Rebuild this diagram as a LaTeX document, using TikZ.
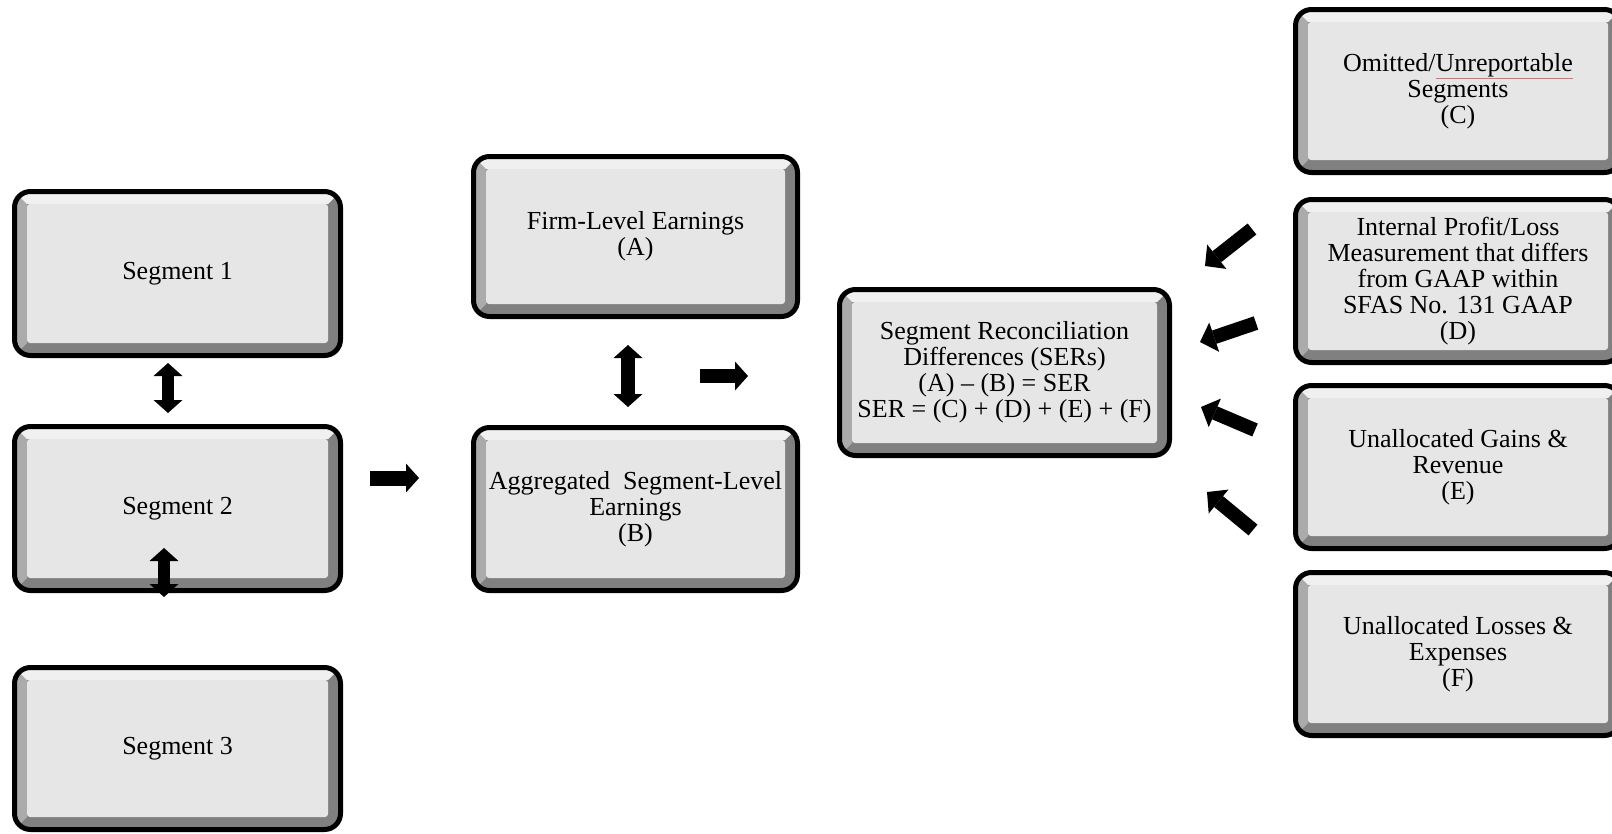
\documentclass[tikz,border=0pt]{standalone}
\usepackage{fontspec}
\setmainfont{Liberation Serif}
\usetikzlibrary{arrows.meta}
\definecolor{bevdark}{HTML}{808080}
\definecolor{bevleft}{HTML}{ABABAB}
\definecolor{bevtop}{HTML}{F0F0F0}
\definecolor{bevface}{HTML}{E6E6E6}
\definecolor{spell}{HTML}{E07070}
\tikzset{
  bevbox/.style={draw=black, line width=5pt, rounded corners=16pt, fill=bevdark,
    align=center, inner sep=0pt, text=black,
    font=\fontsize{26}{26}\selectfont,
    path picture={
      \coordinate (pa) at (path picture bounding box.north west);
      \coordinate (pb) at (path picture bounding box.south east);
      \fill[bevleft, sharp corners] (pa) -- ++(12.5pt,-12.5pt) -- ([shift={(12.5pt,12.5pt)}]pa|-pb) -- (pa|-pb) -- cycle;
      \fill[bevtop, sharp corners] (pa) -- (pa-|pb) -- ([shift={(-12.5pt,-12.5pt)}]pa-|pb) -- ([shift={(12.5pt,-12.5pt)}]pa) -- cycle;
      \fill[bevface, rounded corners=3pt] ([shift={(12.5pt,-12.5pt)}]pa) rectangle ([shift={(-12.5pt,12.5pt)}]pb);
    }},
  tipA/.tip={Triangle[width=29pt,length=13pt,line width=0pt]},
  blockarrow/.style={draw=black, line width=12pt, -tipA},
  dblarrow/.style={draw=black, line width=12pt, tipA-tipA},
  diagarrow/.style={draw=black, line width=14pt, -{Triangle[width=31pt,length=15pt,line width=0pt]}}
}
\begin{document}
\begin{tikzpicture}[x=1pt,y=-1pt]
\path[use as bounding box] (0,0) rectangle (1612,833);
\clip (0,0) rectangle (1612,833);

% left column
\node[bevbox, minimum width=326pt, minimum height=164pt] (s1) at (177.5,273.5) {Segment 1};
\node[bevbox, minimum width=326pt, minimum height=164pt] (s2) at (177.5,508.5) {Segment 2};
\node[bevbox, minimum width=326pt, minimum height=162pt] (s3) at (177.5,748.5) {Segment 3};

% middle column
\node[bevbox, minimum width=324pt, minimum height=160pt] (fa) at (635.5,236.5) {Firm-Level Earnings\\(A)};
\node[bevbox, minimum width=324pt, minimum height=163pt] (ag) at (635.5,509) {Aggregated\ \ Segment-Level\\Earnings\\(B)};

% SER box
\node[bevbox, minimum width=330pt, minimum height=166pt] (ser) at (1004.5,372.5)
  {Segment Reconciliation\\Differences (SERs)\\(A) – (B) = SER\\SER = (C) + (D) + (E) + (F)};

% right column
\node[bevbox, minimum width=325pt, minimum height=163pt] (c) at (1458,91)
  {Omitted/{\color{spell}\underline{\color{black}Unreportable}}\\Segments\\(C)};
\node[bevbox, minimum width=325pt, minimum height=163pt] (d) at (1458,281)
  {Internal Profit/Loss\\Measurement that differs\\from GAAP within\\SFAS No. 131 GAAP\\(D)};
\node[bevbox, minimum width=325pt, minimum height=163pt] (e) at (1458,467)
  {Unallocated Gains \&\\Revenue\\(E)};
\node[bevbox, minimum width=325pt, minimum height=163pt] (f) at (1458,654)
  {Unallocated Losses \&\\Expenses\\(F)};

% arrow end points
\coordinate (d12a) at (168,363);  \coordinate (d12b) at (168,413);
\coordinate (d23a) at (164,548);  \coordinate (d23b) at (164,597);
\coordinate (r2a)  at (370,478);  \coordinate (r2b)  at (419,478);
\coordinate (dABa) at (628,345);  \coordinate (dABb) at (628,407);
\coordinate (rSa)  at (700,376);  \coordinate (rSb)  at (748,376);
\coordinate (c1a) at (1252,229);  \coordinate (c1b) at (1205,266);
\coordinate (c2a) at (1256,323);  \coordinate (c2b) at (1200,342);
\coordinate (c3a) at (1255,430);  \coordinate (c3b) at (1201,407);
\coordinate (c4a) at (1253,530);  \coordinate (c4b) at (1207,492);

\draw[dblarrow] (d12a) -- (d12b);
\draw[dblarrow] (d23a) -- (d23b);
\draw[blockarrow, line width=15pt] (r2a) -- (r2b);
\draw[dblarrow, line width=14pt] (dABa) -- (dABb);
\draw[blockarrow, line width=14pt] (rSa) -- (rSb);
\draw[diagarrow] (c1a) -- (c1b);
\draw[diagarrow] (c2a) -- (c2b);
\draw[diagarrow] (c3a) -- (c3b);
\draw[diagarrow] (c4a) -- (c4b);
\end{tikzpicture}
\end{document}
